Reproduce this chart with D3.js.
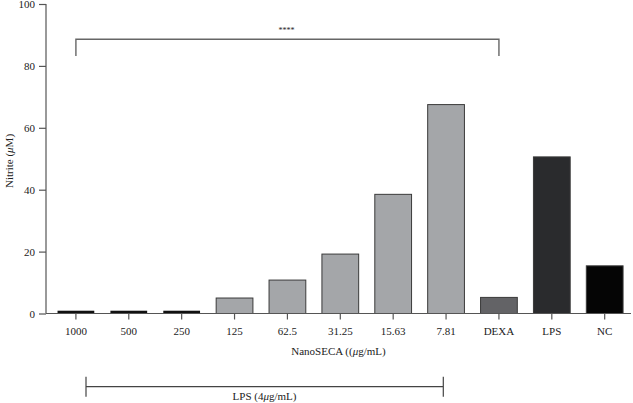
<!DOCTYPE html>
<html><head><meta charset="utf-8">
<script src="https://cdn.jsdelivr.net/npm/d3@7"></script>
<style>body{margin:0;background:#fff}svg{display:block}text{font-family:"Liberation Serif","DejaVu Serif",serif;fill:#222}</style>
</head><body><svg id="c" width="633" height="403"></svg>
<script>
const categories = ["1000","500","250","125","62.5","31.25","15.63","7.81","DEXA","LPS","NC"];
const values = [0.9,0.9,0.9,5.0,10.8,19.2,38.5,67.5,5.2,50.6,15.4];
const colors = ["#111111","#111111","#111111","#a4a6a9","#a4a6a9","#a4a6a9","#a4a6a9","#a4a6a9","#636366","#2a2b2d","#050505"];
const yTicks = [0,20,40,60,80,100];

const svg = d3.select("#c");
const x = d3.scaleBand().domain(categories).range([49.6,631]).paddingInner(0.305).paddingOuter(0.15);
const y = d3.scaleLinear().domain([0,100]).range([313.5,4]);
const axisColor = "#555";

// bars
svg.selectAll("rect.bar").data(categories).join("rect")
  .attr("x", d => x(d)).attr("width", x.bandwidth())
  .attr("y", (d,i) => y(values[i])).attr("height", (d,i) => y(0)-y(values[i]))
  .attr("fill", (d,i) => colors[i])
  .attr("stroke", (d,i) => i<3 ? "none" : "#3a3a3a").attr("stroke-width", 1);

// y axis
const ya = svg.append("g").attr("transform","translate(46,0)")
  .call(d3.axisLeft(y).tickValues(yTicks).tickSize(7).tickPadding(4));
ya.select(".domain").attr("stroke",axisColor).attr("stroke-width",1.2).attr("d",`M0,${y(100)}V${y(0)}`);
ya.selectAll(".tick line").attr("stroke",axisColor).attr("stroke-width",1.2);
ya.selectAll(".tick text").style("font-size","11px").attr("fill","#222");

// x axis
const xa = svg.append("g").attr("transform",`translate(0,${y(0)})`)
  .call(d3.axisBottom(x).tickSize(6).tickPadding(8));
xa.select(".domain").attr("stroke",axisColor).attr("stroke-width",1.2).attr("d","M46,0H631");
xa.selectAll(".tick line").attr("stroke",axisColor).attr("stroke-width",1.2);
xa.selectAll(".tick text").style("font-size","11px").attr("fill","#222");

// axis titles
const yt = svg.append("text").attr("transform","translate(13,161) rotate(-90)")
  .attr("text-anchor","middle").style("font-size","11px");
yt.append("tspan").text("Nitrite (");
yt.append("tspan").attr("font-style","italic").text("μ");
yt.append("tspan").text("M)");

const xt = svg.append("text").attr("x",338.5).attr("y",355).attr("text-anchor","middle").style("font-size","11px");
xt.append("tspan").text("NanoSECA ((");
xt.append("tspan").attr("font-style","italic").text("μ");
xt.append("tspan").text("g/mL)");

// significance bracket
const bx0 = x("1000")+x.bandwidth()/2, bx1 = x("DEXA")+x.bandwidth()/2;
svg.append("path").attr("d",`M${bx0},56V39.3H${bx1}V56`).attr("fill","none").attr("stroke","#666").attr("stroke-width",1.4);
svg.append("text").attr("x",(bx0+bx1)/2-1).attr("y",33).attr("text-anchor","middle")
  .style("font-size","8px").attr("fill","#666").text("****");

// LPS bracket
const lx0 = 86, lx1 = 443.3, ly = 386.7;
svg.append("path").attr("d",`M${lx0},376.7V396.7M${lx0},${ly}H${lx1}M${lx1},376.7V396.7`)
  .attr("fill","none").attr("stroke","#444").attr("stroke-width",1.2);
const lt = svg.append("text").attr("x",264.5).attr("y",400).attr("text-anchor","middle").style("font-size","11px");
lt.append("tspan").text("LPS (4");
lt.append("tspan").attr("font-style","italic").text("μ");
lt.append("tspan").text("g/mL)");
</script></body></html>
